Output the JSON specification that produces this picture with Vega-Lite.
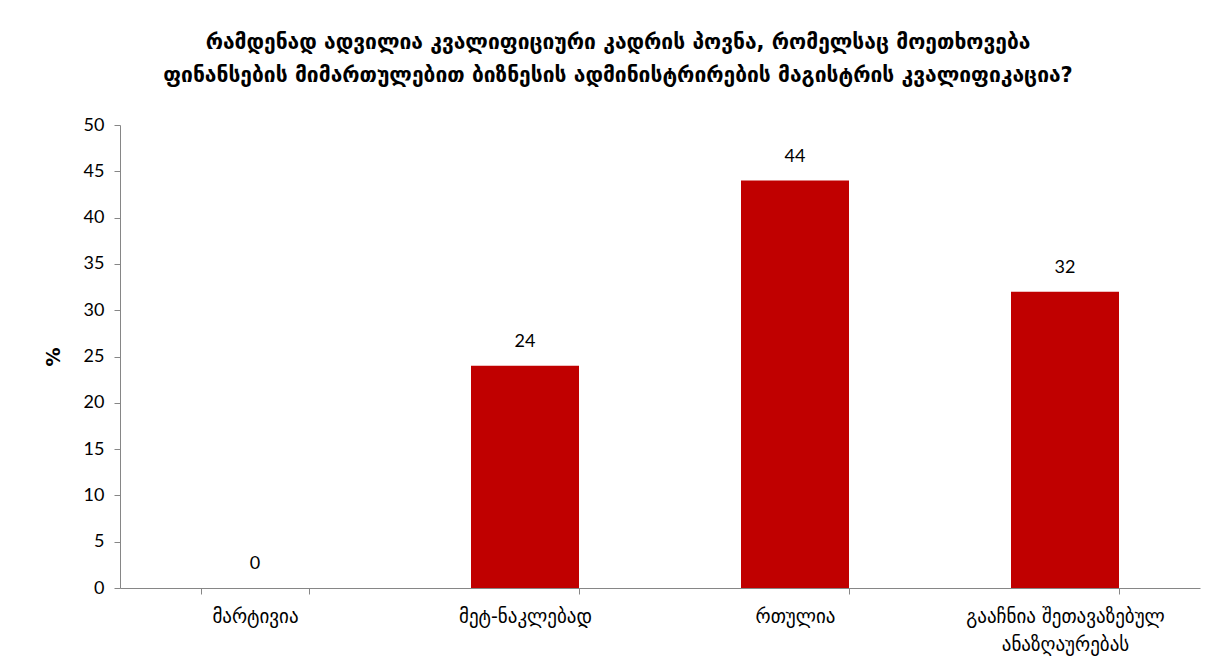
{
  "$schema": "https://vega.github.io/schema/vega-lite/v6.json",
  "autosize": {"type": "none"},
  "width": 1080,
  "height": 463,
  "padding": {"left": 120, "top": 125, "right": 30, "bottom": 81},
  "background": "white",
  "title": {
    "text": ["რამდენად ადვილია კვალიფიციური კადრის  პოვნა, რომელსაც მოეთხოვება", "ფინანსების მიმართულებით ბიზნესის ადმინისტრირების მაგისტრის კვალიფიკაცია?"],
    "font": "DejaVu Sans",
    "fontSize": 21,
    "fontWeight": "bold",
    "color": "#000000",
    "anchor": "middle",
    "dx": -42,
    "offset": 30,
    "lineHeight": 33
  },
  "data": {
    "values": [
      {"category": "მარტივია", "value": 0},
      {"category": "მეტ-ნაკლებად", "value": 24},
      {"category": "რთულია", "value": 44},
      {"category": "გააჩნია შეთავაზებულ ანაზღაურებას", "value": 32}
    ]
  },
  "config": {
    "view": {"stroke": null},
    "font": "Lato, DejaVu Sans"
  },
  "encoding": {
    "x": {
      "field": "category",
      "type": "nominal",
      "sort": null,
      "scale": {"paddingInner": 0.6, "paddingOuter": 0.3},
      "axis": {
        "title": null,
        "labelAngle": 0,
        "labelFont": "DejaVu Sans",
        "labelFontSize": 19,
        "labelColor": "#000000",
        "labelPadding": 13,
        "labelLineHeight": 28,
        "labelExpr": "datum.label == 'გააჩნია შეთავაზებულ ანაზღაურებას' ? ['გააჩნია შეთავაზებულ', 'ანაზღაურებას'] : datum.label",
        "tickBand": "extent",
        "tickSize": 6,
        "tickColor": "#868686",
        "domainColor": "#868686",
        "labelLimit": 400
      }
    },
    "y": {
      "field": "value",
      "type": "quantitative",
      "scale": {"domain": [0, 50], "nice": false},
      "axis": {
        "title": "%",
        "titleFont": "DejaVu Sans",
        "titleFontSize": 19,
        "titleFontWeight": "bold",
        "titleColor": "#000000",
        "titlePadding": 20,
        "values": [0, 5, 10, 15, 20, 25, 30, 35, 40, 45, 50],
        "grid": false,
        "labelFont": "Lato",
        "labelFontSize": 18,
        "labelColor": "#000000",
        "labelPadding": 10,
        "tickSize": 6,
        "tickColor": "#868686",
        "domainColor": "#868686"
      }
    }
  },
  "layer": [
    {"mark": {"type": "bar", "color": "#C00000"}},
    {
      "mark": {"type": "text", "dy": -24, "fontSize": 18, "font": "Lato", "color": "#000000"},
      "encoding": {"text": {"field": "value", "type": "quantitative"}}
    }
  ]
}
